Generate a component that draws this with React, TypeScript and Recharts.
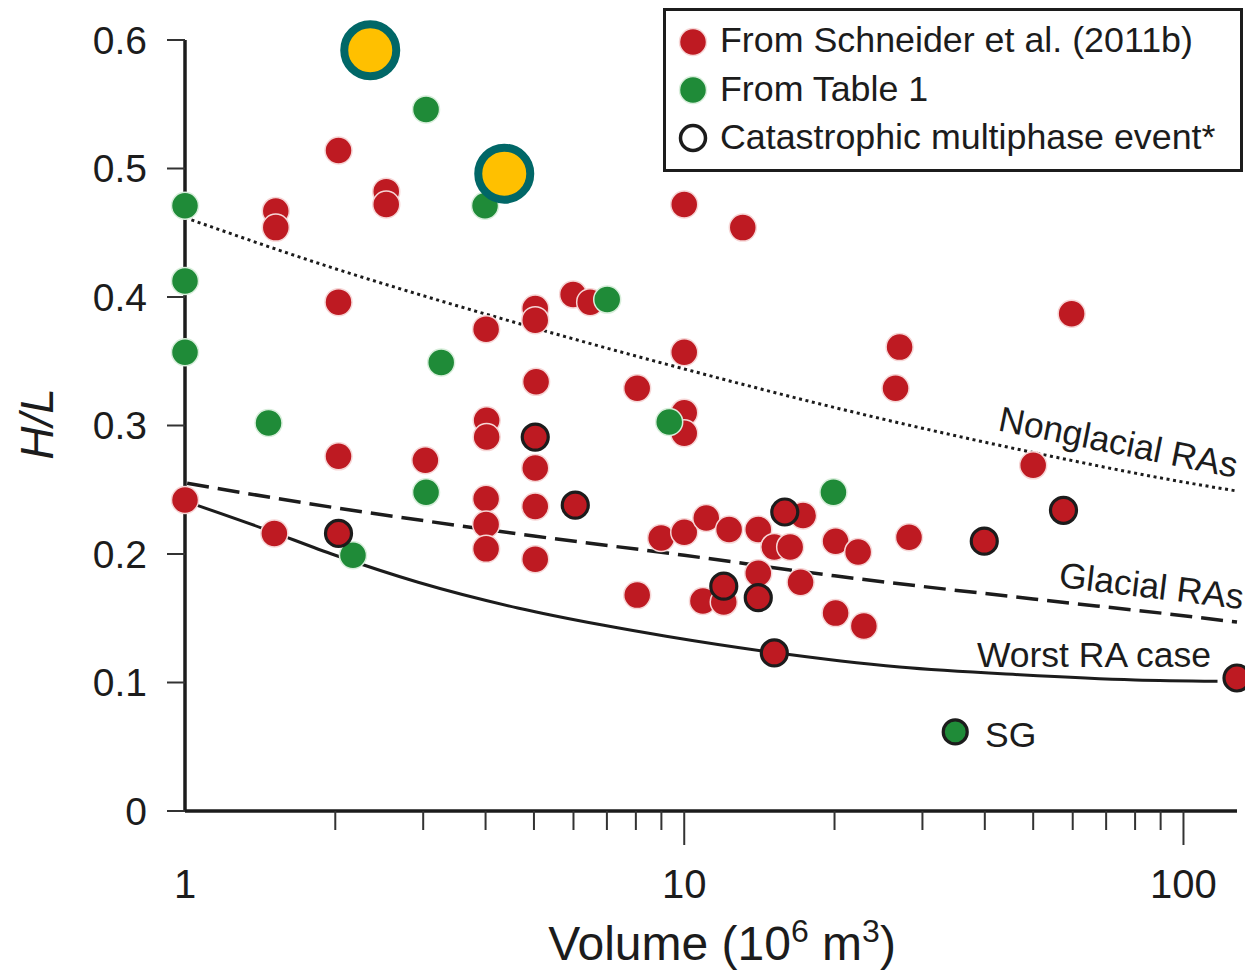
import React from 'react';
import { ComposedChart, Scatter, Line, XAxis, YAxis, Legend, Customized } from 'recharts';

const FONT = '"Liberation Sans", Arial, Helvetica, sans-serif';
const INK = '#1c1c1c';
const RED = '#be1a22';
const GREEN = '#1f8b38';

// volume (10^6 m3) vs H/L
const schneiderPts = [
  { v: 1.52, hl: 0.467 }, { v: 1.52, hl: 0.454 }, { v: 2.03, hl: 0.514 }, { v: 2.53, hl: 0.482 },
  { v: 2.53, hl: 0.472 }, { v: 2.03, hl: 0.396 }, { v: 10.0, hl: 0.472 }, { v: 13.1, hl: 0.454 },
  { v: 5.99, hl: 0.402 }, { v: 6.48, hl: 0.396 }, { v: 5.03, hl: 0.391 }, { v: 5.03, hl: 0.382 },
  { v: 4.01, hl: 0.375 }, { v: 59.7, hl: 0.387 }, { v: 2.03, hl: 0.276 }, { v: 3.03, hl: 0.273 },
  { v: 1.0, hl: 0.242 }, { v: 1.51, hl: 0.216 }, { v: 5.05, hl: 0.334 }, { v: 8.05, hl: 0.329 },
  { v: 10.0, hl: 0.357 }, { v: 10.0, hl: 0.31 }, { v: 10.0, hl: 0.294 }, { v: 4.02, hl: 0.304 },
  { v: 4.02, hl: 0.291 }, { v: 5.03, hl: 0.267 }, { v: 4.01, hl: 0.243 }, { v: 4.01, hl: 0.223 },
  { v: 4.01, hl: 0.204 }, { v: 5.03, hl: 0.237 }, { v: 5.03, hl: 0.196 }, { v: 8.05, hl: 0.168 },
  { v: 8.99, hl: 0.2125 }, { v: 10.0, hl: 0.217 }, { v: 11.07, hl: 0.228 }, { v: 12.3, hl: 0.219 },
  { v: 14.07, hl: 0.219 }, { v: 15.15, hl: 0.2055 }, { v: 16.3, hl: 0.2055 }, { v: 17.3, hl: 0.23 },
  { v: 14.07, hl: 0.185 }, { v: 17.1, hl: 0.178 }, { v: 10.9, hl: 0.1634 }, { v: 12.0, hl: 0.1626 },
  { v: 27.0, hl: 0.361 }, { v: 26.5, hl: 0.329 }, { v: 50.0, hl: 0.269 }, { v: 28.2, hl: 0.213 },
  { v: 20.1, hl: 0.21 }, { v: 22.3, hl: 0.2016 }, { v: 20.1, hl: 0.154 }, { v: 22.9, hl: 0.144 },
];

const schneiderCatastrophic = [
  { v: 2.03, hl: 0.216 }, { v: 5.03, hl: 0.291 }, { v: 6.05, hl: 0.238 }, { v: 15.9, hl: 0.2327 },
  { v: 12.0, hl: 0.175 }, { v: 14.07, hl: 0.166 }, { v: 15.15, hl: 0.123 }, { v: 39.9, hl: 0.21 },
  { v: 57.5, hl: 0.234 }, { v: 128, hl: 0.1035 },
];

const table1Pts = [
  { v: 1.0, hl: 0.471 }, { v: 1.0, hl: 0.4125 }, { v: 1.0, hl: 0.357 }, { v: 3.04, hl: 0.546 },
  { v: 3.99, hl: 0.471 }, { v: 7.01, hl: 0.398 }, { v: 3.26, hl: 0.349 }, { v: 1.47, hl: 0.302 },
  { v: 9.33, hl: 0.3027 }, { v: 3.04, hl: 0.248 }, { v: 2.17, hl: 0.199 }, { v: 19.9, hl: 0.248 },
];

const table1Catastrophic = [{ v: 34.9, hl: 0.0615 }];

const highlightPts = [{ v: 2.35, hl: 0.592 }, { v: 4.36, hl: 0.496 }];

const nonglacialCurve = [
  { v: 1.03, hl: 0.46 }, { v: 2, hl: 0.422 }, { v: 3, hl: 0.401 }, { v: 5, hl: 0.376 },
  { v: 10, hl: 0.344 }, { v: 20, hl: 0.314 }, { v: 50, hl: 0.279 }, { v: 100, hl: 0.256 },
  { v: 128, hl: 0.249 },
];

const glacialCurve = [
  { v: 1.01, hl: 0.255 }, { v: 2, hl: 0.236 }, { v: 3, hl: 0.226 }, { v: 5, hl: 0.214 },
  { v: 10, hl: 0.199 }, { v: 20, hl: 0.183 }, { v: 50, hl: 0.165 }, { v: 100, hl: 0.152 },
  { v: 128, hl: 0.147 },
];

const worstCurve = [
  { v: 1.02, hl: 0.24 }, { v: 1.43, hl: 0.22 }, { v: 2, hl: 0.199 }, { v: 2.93, hl: 0.178 },
  { v: 4.64, hl: 0.158 }, { v: 6.9, hl: 0.1445 }, { v: 9.2, hl: 0.136 }, { v: 15, hl: 0.1235 },
  { v: 27, hl: 0.112 }, { v: 47, hl: 0.106 }, { v: 80, hl: 0.102 }, { v: 117, hl: 0.101 },
];

const xTicks = [1, 2, 3, 4, 5, 6, 7, 8, 9, 10, 20, 30, 40, 50, 60, 70, 80, 90, 100];
const xLabelled = [1, 10, 100];
const yTicks = [0, 0.1, 0.2, 0.3, 0.4, 0.5, 0.6];

const legendItems = [
  { label: 'From Schneider et al. (2011b)', fill: RED, stroke: '#f6d6d6' },
  { label: 'From Table 1', fill: GREEN, stroke: '#d8eedb' },
  { label: 'Catastrophic multiphase event*', fill: 'none', stroke: INK },
];

const dot = (fill: string, stroke: string, sw: number, r: number) => (p: any) =>
  <circle cx={p.cx} cy={p.cy} r={r} fill={fill} stroke={stroke} strokeWidth={sw} />;

const XTick = (props: any) => {
  const { x, y, payload } = props;
  const v = payload.value;
  const major = xLabelled.includes(v);
  return (
    <g>
      {v !== 1 && (
        <line x1={x} x2={x} y1={y} y2={y + (major ? 34 : 19)} stroke="#333" strokeWidth={2} />
      )}
      {major && (
        <text x={x} y={y + 87} textAnchor="middle" fontSize={40} fill={INK} fontFamily={FONT}>
          {v}
        </text>
      )}
    </g>
  );
};

const XLabel = (props: any) => {
  const { viewBox } = props;
  return (
    <text x={viewBox.x + viewBox.width / 2 + 11} y={viewBox.y + 149} textAnchor="middle"
      fontSize={48} fill={INK} fontFamily={FONT}>
      Volume (10<tspan dy={-18} fontSize={32}>6</tspan>
      <tspan dy={18}> m</tspan>
      <tspan dy={-18} fontSize={32}>3</tspan>
      <tspan dy={18}>)</tspan>
    </text>
  );
};

const YLabel = () => (
  <text x={53} y={424} textAnchor="middle" transform="rotate(-90 53 424)" fontSize={46}
    fontStyle="italic" fill={INK} fontFamily={FONT}>
    H/L
  </text>
);

const renderLegend = () => (
  <div style={{ width: 580, height: 164, border: `3px solid ${INK}`, boxSizing: 'border-box', background: '#fff' }}>
    <svg width={574} height={158} style={{ display: 'block' }}>
      {legendItems.map((it, i) => (
        <g key={it.label}>
          <circle cx={27} cy={31 + i * 48} r={it.fill === 'none' ? 12.5 : 13.5} fill={it.fill}
            stroke={it.stroke} strokeWidth={it.fill === 'none' ? 3.5 : 1.5} />
          <text x={54} y={41 + i * 48.5} fontSize={35.8} fill={INK} fontFamily={FONT}>{it.label}</text>
        </g>
      ))}
    </svg>
  </div>
);

const Annotations = () => (
  <g fontFamily={FONT} fill={INK} fontSize={35.5}>
    <text x={1116} y={454} textAnchor="middle" transform="rotate(11.3 1116 454)">Nonglacial RAs</text>
    <text x={1150} y={598} textAnchor="middle" transform="rotate(6.9 1150 598)">Glacial RAs</text>
    <text x={1094} y={667} textAnchor="middle">Worst RA case</text>
    <text x={985} y={747}>SG</text>
  </g>
);

export default function App() {
  return (
    <div style={{ position: 'absolute', left: 0, top: 0, width: 1245, height: 971, background: '#fff' }}>
      <ComposedChart width={1245} height={971} margin={{ top: 40, right: 8, bottom: 0, left: 0 }}>
        <XAxis
          type="number"
          dataKey="v"
          scale="log"
          domain={[1, 128]}
          ticks={xTicks}
          interval={0}
          height={160}
          tickSize={0}
          tickMargin={0}
          tickLine={false}
          tick={<XTick />}
          axisLine={{ stroke: INK, strokeWidth: 3.5 }}
          label={<XLabel />}
        />
        <YAxis
          type="number"
          dataKey="hl"
          domain={[0, 0.6]}
          ticks={yTicks}
          interval={0}
          width={185}
          tickSize={18}
          tickMargin={20}
          tick={{ fontSize: 39, fill: INK, fontFamily: FONT }}
          tickLine={{ stroke: '#333', strokeWidth: 2 }}
          axisLine={{ stroke: INK, strokeWidth: 3.5 }}
          label={<YLabel />}
        />
        <Legend
          layout="horizontal"
          verticalAlign="middle"
          align="center"
          content={renderLegend}
          wrapperStyle={{ left: 663, top: 8, width: 580, height: 164 }}
        />
        <Line data={nonglacialCurve} dataKey="hl" type="monotone" stroke={INK} strokeWidth={3}
          strokeDasharray="3 3.6" dot={false} activeDot={false} legendType="none" isAnimationActive={false} />
        <Line data={glacialCurve} dataKey="hl" type="monotone" stroke={INK} strokeWidth={3.5}
          strokeDasharray="22 9" dot={false} activeDot={false} legendType="none" isAnimationActive={false} />
        <Line data={worstCurve} dataKey="hl" type="monotone" stroke={INK} strokeWidth={3}
          dot={false} activeDot={false} legendType="none" isAnimationActive={false} />
        <Scatter data={schneiderPts} dataKey="hl" shape={dot(RED, '#f6d6d6', 1.5, 13.5)} isAnimationActive={false} />
        <Scatter data={table1Pts} dataKey="hl" shape={dot(GREEN, '#d8eedb', 1.5, 13.5)} isAnimationActive={false} />
        <Scatter data={schneiderCatastrophic} dataKey="hl" shape={dot(RED, INK, 3.2, 13)} isAnimationActive={false} />
        <Scatter data={table1Catastrophic} dataKey="hl" shape={dot(GREEN, INK, 3.2, 12)} isAnimationActive={false} />
        <Scatter data={highlightPts} dataKey="hl" shape={dot('#ffc000', '#016767', 8, 26)} isAnimationActive={false} />
        <Customized component={Annotations} />
      </ComposedChart>
    </div>
  );
}
